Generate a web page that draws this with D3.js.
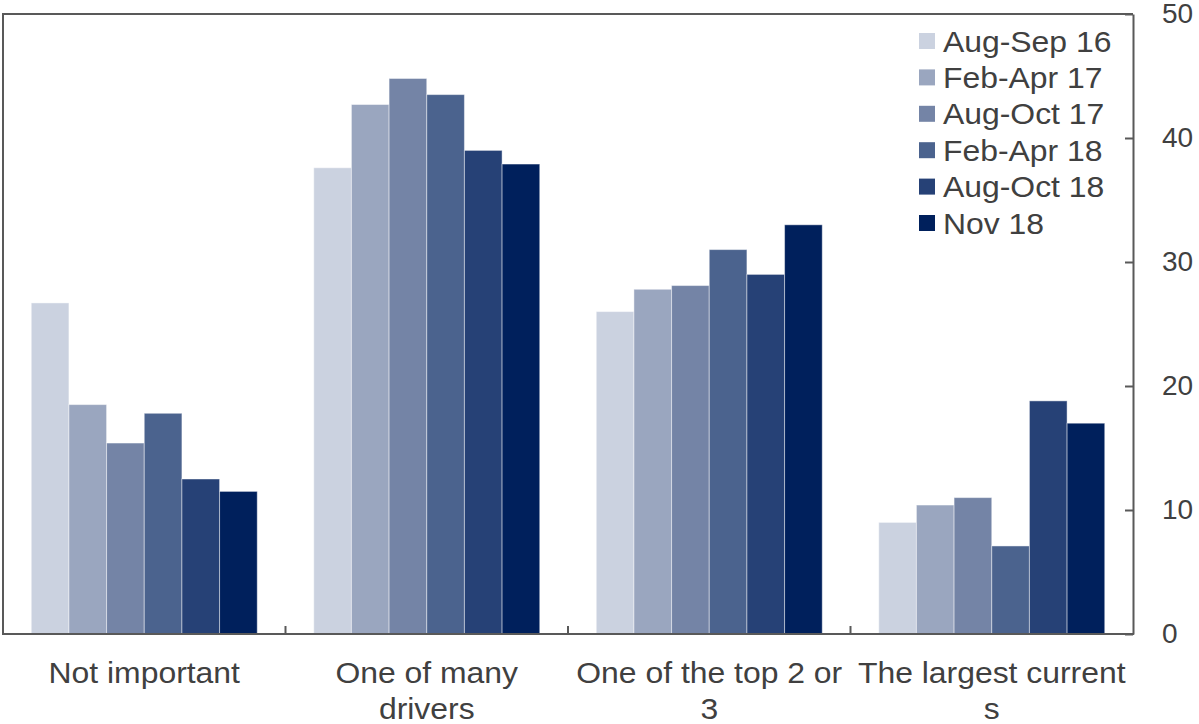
<!DOCTYPE html>
<html>
<head>
<meta charset="utf-8">
<script src="https://cdn.jsdelivr.net/npm/d3@7"></script>
<style>
  html, body { margin: 0; padding: 0; background: #fff; }
  svg { display: block; font-family: "Liberation Sans", Arial, sans-serif; }
</style>
</head>
<body>
<svg id="chart" width="1199" height="724"></svg>
<script>
// Survey responses: importance of the factor, share of respondents (%)
const categories = [
  ["Not important"],
  ["One of many", "drivers"],
  ["One of the top 2 or", "3"],
  ["The largest current", "s"]
];
const seriesNames = ["Aug-Sep 16", "Feb-Apr 17", "Aug-Oct 17", "Feb-Apr 18", "Aug-Oct 18", "Nov 18"];
const augSep16 = [26.7, 37.6, 26.0, 9.0];
const febApr17 = [18.5, 42.7, 27.8, 10.4];
const augOct17 = [15.4, 44.8, 28.1, 11.0];
const febApr18 = [17.8, 43.5, 31.0, 7.1];
const augOct18 = [12.5, 39.0, 29.0, 18.8];
const nov18 = [11.5, 37.9, 33.0, 17.0];
const yTicks = [0, 10, 20, 30, 40, 50];
const colors = ["#cbd2e0", "#9aa6bf", "#7484a6", "#4b638e", "#264176", "#00205c"];

const series = [augSep16, febApr17, augOct17, febApr18, augOct18, nov18];

const svg = d3.select("#chart");
const plot = { left: 3, right: 1133, top: 14, bottom: 634 };
const textStretch = 1.1;
const labelSize = "29px";

const x0 = d3.scaleBand()
  .domain(d3.range(categories.length))
  .range([plot.left, plot.right])
  .paddingInner(0).paddingOuter(0);

const x1 = d3.scaleBand()
  .domain(d3.range(seriesNames.length))
  .range([0, x0.bandwidth()])
  .paddingOuter(0.75).paddingInner(0);

const y = d3.scaleLinear().domain([0, 50]).range([plot.bottom, plot.top]);

// Bars
const groups = svg.append("g").selectAll("g")
  .data(categories.map((c, i) => i))
  .join("g")
  .attr("transform", i => `translate(${x0(i)},0)`);

groups.selectAll("rect")
  .data(i => series.map((s, k) => ({ k, v: s[i] })))
  .join("rect")
  .attr("x", d => x1(d.k))
  .attr("width", x1.bandwidth())
  .attr("y", d => y(d.v))
  .attr("height", d => y(0) - y(d.v))
  .attr("fill", d => colors[d.k])
  .attr("stroke", "rgba(255,255,255,0.45)")
  .attr("stroke-width", 1);

// Frame: left and top edges
svg.append("path")
  .attr("d", `M${plot.left},${plot.bottom}V${plot.top}H${plot.right}`)
  .attr("fill", "none").attr("stroke", "#595959").attr("stroke-width", 2);

// Right value axis, ticks pointing inward
const yAxis = svg.append("g")
  .attr("transform", `translate(${plot.right},0)`)
  .call(d3.axisRight(y).tickValues(yTicks).tickSize(0).tickPadding(29));
yAxis.select(".domain").attr("stroke", "#595959").attr("stroke-width", 2);
yAxis.selectAll(".tick text")
  .attr("fill", "#404040").style("font-size", "28px")
  .style("font-family", "'Liberation Sans', Arial, sans-serif");
yAxis.selectAll(".tick").append("line")
  .attr("x1", -8).attr("x2", 0)
  .attr("stroke", "#595959").attr("stroke-width", 2);

// Bottom category axis
const xAxis = svg.append("g")
  .attr("transform", `translate(0,${plot.bottom})`);
xAxis.append("line")
  .attr("x1", plot.left - 1).attr("x2", plot.right + 1)
  .attr("stroke", "#595959").attr("stroke-width", 2);
xAxis.selectAll("line.sep")
  .data(d3.range(1, categories.length))
  .join("line")
  .attr("class", "sep")
  .attr("x1", i => x0(i)).attr("x2", i => x0(i))
  .attr("y1", -8).attr("y2", 0)
  .attr("stroke", "#595959").attr("stroke-width", 2);

const catLabels = xAxis.selectAll("g.cat")
  .data(categories)
  .join("g")
  .attr("class", "cat")
  .attr("transform", (d, i) => `translate(${x0(i) + x0.bandwidth() / 2},0) scale(${textStretch},1)`)
  .append("text")
  .attr("text-anchor", "middle")
  .attr("fill", "#404040")
  .style("font-size", labelSize);
catLabels.each(function(lines) {
  const t = d3.select(this);
  lines.forEach((ln, j) => {
    t.append("tspan")
      .attr("x", 0)
      .attr("y", 49 + j * 36)
      .text(ln);
  });
});

// Legend
const legend = svg.append("g").attr("transform", "translate(919,41)");
const rows = legend.selectAll("g")
  .data(seriesNames)
  .join("g")
  .attr("transform", (d, k) => `translate(0,${k * 36.4})`);
rows.append("rect")
  .attr("x", 0).attr("y", -8).attr("width", 16).attr("height", 16)
  .attr("fill", (d, k) => colors[k]);
rows.append("text")
  .attr("transform", `translate(24,10.5) scale(${textStretch},1)`)
  .attr("fill", "#404040")
  .style("font-size", labelSize)
  .text(d => d);
</script>
</body>
</html>
